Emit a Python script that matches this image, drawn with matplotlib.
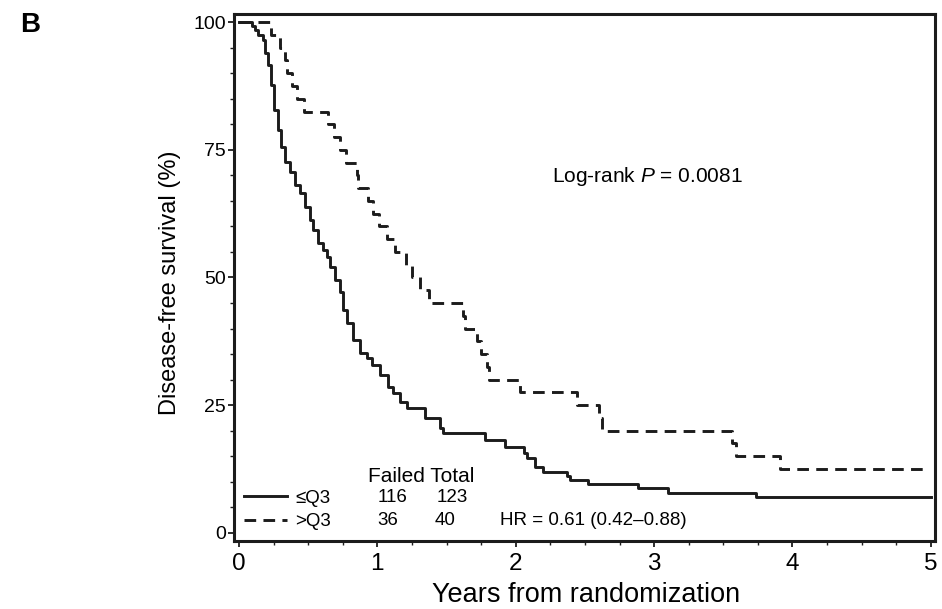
import numpy as np
import matplotlib
matplotlib.use('Agg')
import matplotlib.pyplot as plt

plt.rcParams['font.family'] = ['Liberation Sans', 'DejaVu Sans']
plt.rcParams['mathtext.fontset'] = 'custom'
plt.rcParams['mathtext.rm'] = 'Liberation Sans'
plt.rcParams['mathtext.it'] = 'Liberation Sans:italic'

# <=Q3 group (solid): step times (years) and survival (%) after each step
low_t = [0, 0.094, 0.116, 0.137, 0.173, 0.188, 0.210, 0.231, 0.253, 0.282,
         0.303, 0.332, 0.368, 0.405, 0.441, 0.477, 0.513, 0.535, 0.571,
         0.607, 0.636, 0.658, 0.694, 0.730, 0.751, 0.780, 0.824, 0.874,
         0.925, 0.961, 1.019, 1.077, 1.113, 1.163, 1.214, 1.344, 1.452,
         1.474, 1.777, 1.922, 2.059, 2.081, 2.139, 2.197, 2.370, 2.392,
         2.522, 2.883, 3.100, 3.735, 3.750, 5.0]
low_s = [100, 99.2, 98.4, 97.5, 96.5, 93.9, 91.6, 87.7, 82.8, 78.9,
         75.5, 72.6, 70.6, 68.2, 66.5, 63.8, 61.3, 59.3, 56.8, 55.4,
         54.0, 52.1, 49.5, 47.2, 43.6, 41.1, 37.8, 35.2, 34.2, 32.9,
         30.9, 28.6, 27.4, 25.6, 24.5, 22.5, 20.5, 19.6, 18.2, 16.8,
         15.7, 14.7, 12.9, 11.9, 11.2, 10.4, 9.6, 8.8, 7.8, 7.0, 7.0, 7.0]

# >Q3 group (dashed)
high_t = [0, 0.23, 0.30, 0.33, 0.35, 0.38, 0.42, 0.47, 0.64, 0.69, 0.73,
          0.77, 0.85, 0.86, 0.93, 0.97, 1.01, 1.07, 1.13, 1.21, 1.25, 1.31,
          1.37, 1.62, 1.63, 1.72, 1.75, 1.79, 1.81, 2.03, 2.44, 2.60, 2.62,
          3.56, 3.59, 3.91, 4.96]
high_s = [100, 97.5, 95, 92.5, 90, 87.5, 85, 82.5, 80, 77.5, 75,
          72.5, 70, 67.5, 65, 62.5, 60, 57.5, 55, 52.5, 50, 47.5,
          45, 42.5, 40, 37.5, 35, 32.5, 30, 27.5, 25, 22.5, 20,
          17.5, 15, 12.5, 12.5]

groups = ['\u2264Q3', '>Q3']
failed = [116, 36]
total = [123, 40]
hr_text = 'HR = 0.61 (0.42\u20130.88)'
p_text = 'Log-rank $P$ = 0.0081'

ink = '#1c1c1c'
fig = plt.figure(figsize=(9.42, 6.09), dpi=100)
ax = fig.add_axes([0.2484, 0.1117, 0.7442, 0.8653])

ax.step(low_t, low_s, where='post', color=ink, lw=2.1, label=groups[0])
ax.step(high_t, high_s, where='post', color=ink, lw=2.1,
        dashes=(4, 2.5), dash_capstyle='butt', label=groups[1])

ax.set_xlim(-0.036, 5.03)
ax.set_ylim(-1.6, 101.6)
ax.set_xticks([0, 1, 2, 3, 4, 5])
ax.set_xticks(np.arange(0, 5.01, 0.25), minor=True)
ax.set_yticks([0, 25, 50, 75, 100])
ax.set_yticks(np.arange(0, 101, 5), minor=True)

for sp in ax.spines.values():
    sp.set_linewidth(2.2)
    sp.set_color(ink)
ax.tick_params(which='major', length=4, width=1.3, color=ink, direction='out')
ax.tick_params(which='minor', length=3, width=1.0, color=ink, direction='out')
ax.tick_params(axis='y', labelsize=14, pad=2)
ax.tick_params(axis='x', labelsize=17.5, pad=5)

ax.set_ylabel('Disease-free survival (%)', fontsize=17)
ax.yaxis.set_label_coords(-0.0756, 0.49)
ax.set_xlabel('Years from randomization', fontsize=19.5)
ax.xaxis.set_label_coords(0.502, -0.077)

ax.text(2.26, 69.7, p_text, fontsize=15, va='center', ha='left')

# failed / total table
ax.text(0.932, 11.0, 'Failed Total', fontsize=15, va='center', ha='left')
row_y = [6.85, 2.5]
fail_x = [1.113, 1.077]
tot_x = [1.539, 1.488]
for i in range(2):
    ax.text(fail_x[i], row_y[i], str(failed[i]), fontsize=13.5, va='center', ha='center')
    ax.text(tot_x[i], row_y[i], str(total[i]), fontsize=13.5, va='center', ha='center')
ax.text(1.886, 2.5, hr_text, fontsize=13.5, va='center', ha='left')

ax.legend(loc='lower left', bbox_to_anchor=(0.0143, 0.02), frameon=False,
          fontsize=13.5, handlelength=2.3, handletextpad=0.45,
          labelspacing=0.36, borderpad=0, borderaxespad=0)

fig.text(0.021, 0.98, 'B', fontsize=20, fontweight='bold', va='top', ha='left')

fig.savefig('out.png', dpi=100)
